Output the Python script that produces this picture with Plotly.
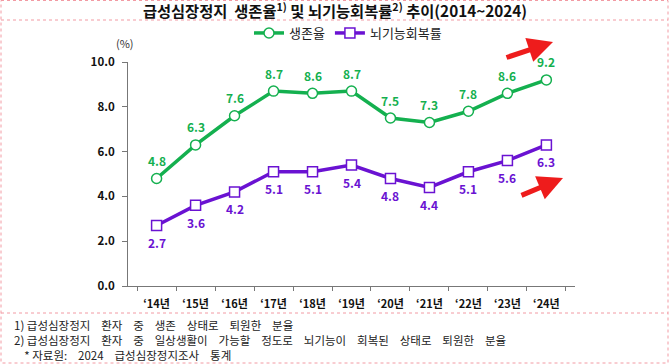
import plotly.graph_objects as go

years = ["‘14년", "‘15년", "‘16년", "‘17년", "‘18년", "‘19년", "‘20년", "‘21년", "‘22년", "‘23년", "‘24년"]
survival = [4.8, 6.3, 7.6, 8.7, 8.6, 8.7, 7.5, 7.3, 7.8, 8.6, 9.2]
recovery = [2.7, 3.6, 4.2, 5.1, 5.1, 5.4, 4.8, 4.4, 5.1, 5.6, 6.3]
y_ticks = [0, 2, 4, 6, 8, 10]

GREEN = "#14b04f"
PURPLE = "#6a12d2"
FONT = "Noto Sans CJK KR"
PINK = "#f29aa3"

W, H = 670, 364
L, R, T, B = 128, 95, 62, 78
PW, PH = W - L - R, H - T - B


def px(x):
    return (x - L) / PW


def py(y):
    return (H - B - y) / PH


fig = go.Figure()
fig.add_trace(go.Scatter(
    x=years, y=survival, name="생존율", mode="lines+markers",
    line=dict(color=GREEN, width=3.5),
    marker=dict(symbol="circle", size=10, color="white", line=dict(color=GREEN, width=1.5)),
))
fig.add_trace(go.Scatter(
    x=years, y=recovery, name="뇌기능회복률", mode="lines+markers",
    line=dict(color=PURPLE, width=3.5),
    marker=dict(symbol="square", size=10, color="white", line=dict(color=PURPLE, width=1.5)),
))

annotations = []
for xv, yv in zip(years, survival):
    annotations.append(dict(x=xv, y=yv, xref="x", yref="y", text=f"{yv:.1f}", showarrow=False,
                            yshift=18, xanchor="center", yanchor="middle",
                            font=dict(color=GREEN, size=12, family=FONT, weight="bold")))
for xv, yv in zip(years, recovery):
    annotations.append(dict(x=xv, y=yv, xref="x", yref="y", text=f"{yv:.1f}", showarrow=False,
                            yshift=-17, xanchor="center", yanchor="middle",
                            font=dict(color=PURPLE, size=12, family=FONT, weight="bold")))

shapes = [
    dict(type="rect", xref="paper", yref="paper", x0=px(1), x1=px(668), y0=py(0.5), y1=py(363),
         line=dict(color=PINK, width=1, dash="dot")),
    dict(type="line", xref="paper", yref="paper", x0=px(1), x1=px(668), y0=py(20), y1=py(20),
         line=dict(color=PINK, width=1, dash="dot")),
    dict(type="line", xref="paper", yref="paper", x0=px(1), x1=px(668), y0=py(313), y1=py(313),
         line=dict(color=PINK, width=1, dash="dot")),
]

SP = "\u2002  "
foot1 = "1) " + SP.join(["급성심장정지", "환자", "중", "생존", "상태로", "퇴원한", "분율"])
foot2 = "2) " + SP.join(["급성심장정지", "환자", "중", "일상생활이", "가능할", "정도로",
                         "뇌기능이", "회복된", "상태로", "퇴원한", "분율"])
foot3 = "\u00a0\u00a0\u00a0\u00a0* " + SP.join(["자료원:", "2024", "급성심장정지조사", "통계"])
footnote = "<br>".join([foot1, foot2, foot3])

annotations += [
    dict(text="(%)", xref="paper", yref="paper", x=px(125), y=py(43), showarrow=False,
         font=dict(size=11, family=FONT, color="#333"), xanchor="center", yanchor="middle"),
    dict(xref="paper", yref="paper", x=px(553), y=py(42), ax=-48, ay=16, showarrow=True,
         arrowhead=2, arrowsize=1, arrowwidth=5, arrowcolor="#ee1c1c", text=""),
    dict(xref="paper", yref="paper", x=px(563), y=py(178), ax=-43, ay=18, showarrow=True,
         arrowhead=2, arrowsize=1, arrowwidth=5, arrowcolor="#ee1c1c", text=""),
    dict(text=footnote, xref="paper", yref="paper", align="left",
         x=px(12), y=py(340), xanchor="left", yanchor="middle", showarrow=False,
         font=dict(size=11.5, family=FONT, color="#222")),
]

fig.update_layout(
    width=W, height=H,
    margin=dict(l=L, r=R, t=T, b=B),
    paper_bgcolor="white", plot_bgcolor="white",
    font=dict(family=FONT),
    title=dict(text="급성심장정지  생존율<sup>1)</sup> 및 뇌기능회복률<sup>2)</sup> 추이(2014~2024)",
               x=0.5, xref="container", xanchor="center", y=1 - 12 / H, yref="container",
               yanchor="middle", font=dict(size=15.3, family=FONT, color="#111", weight="bold")),
    legend=dict(orientation="h", x=px(348), y=py(33), xanchor="center", yanchor="middle",
                font=dict(size=13, family=FONT, color="#222"), bgcolor="rgba(0,0,0,0)"),
    shapes=shapes,
    annotations=annotations,
    showlegend=True,
)
fig.update_xaxes(
    type="category", showgrid=False, showline=True, linecolor="#777", linewidth=1,
    ticks="outside", ticklen=4, tickcolor="#777", tickson="boundaries", ticklabelstandoff=8,
    tickfont=dict(size=11, family=FONT, color="#111", weight="bold"), fixedrange=True,
)
fig.update_yaxes(
    range=[0, 10], tickvals=y_ticks, tickformat=".1f", showgrid=False, zeroline=False,
    showline=True, linecolor="#777", linewidth=1, ticks="outside", ticklen=5, tickcolor="#777",
    ticklabelstandoff=5,
    tickfont=dict(size=11.5, family=FONT, color="#111", weight="bold"), fixedrange=True,
)

fig.write_html("out.html", config={"displayModeBar": False},
               post_script="document.body.style.margin='0px';document.body.style.overflow='hidden';")
